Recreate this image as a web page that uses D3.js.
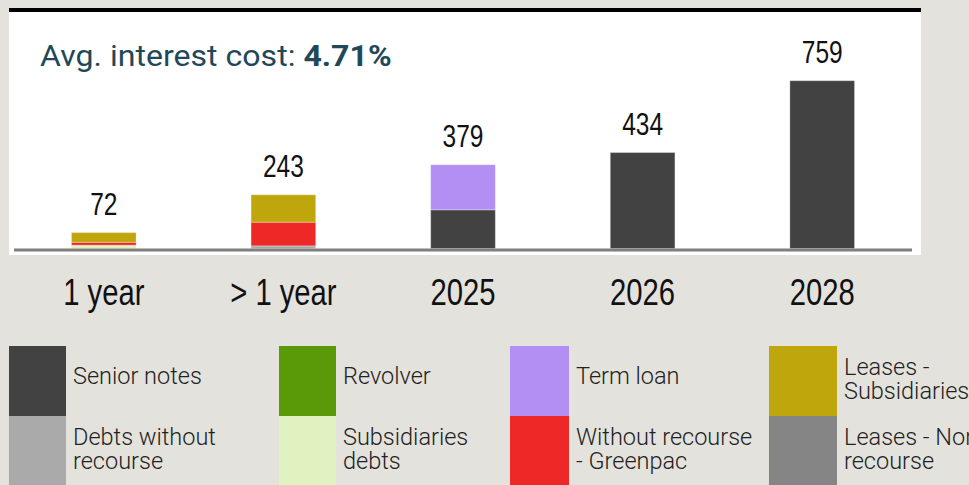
<!DOCTYPE html>
<html>
<head>
<meta charset="utf-8">
<script src="https://cdn.jsdelivr.net/npm/d3@7/dist/d3.min.js"></script>
<style>
  html, body { margin: 0; padding: 0; background: #e4e2dd; }
  svg { display: block; }
</style>
</head>
<body>
<svg id="chart" width="969" height="485"></svg>
<script>
// Maturity buckets (US$ million)
const categories = ["1 year", "> 1 year", "2025", "2026", "2028"];

// Debt types, in stacking order (bottom to top)
const seriesNames = [
  "Senior notes",
  "Debts without recourse",
  "Subsidiaries debts",
  "Revolver",
  "Term loan",
  "Without recourse - Greenpac",
  "Leases - Subsidiaries",
  "Leases - Non recourse"
];
const seriesColors = ["#424242", "#aaaaaa", "#dff2c0", "#5a9a08", "#b38ef3", "#ee2826", "#bfa60d", "#858585"];

// Amounts per debt type, one value per bucket
const seniorNotes        = [0,   0,   175, 434, 759];
const debtsWithout       = [0,   12,  0,   0,   0];
const subsidiariesDebts  = [15,  0,   0,   0,   0];
const revolver           = [0,   0,   0,   0,   0];
const termLoan           = [0,   0,   204, 0,   0];
const greenpac           = [13,  107, 0,   0,   0];
const leasesSubsidiaries = [44,  124, 0,   0,   0];
const leasesNonRecourse  = [0,   0,   0,   0,   0];

// Totals shown above each bar
const totals = [72, 243, 379, 434, 759];

const avgLabel = "Avg. interest cost: ";
const avgValue = "4.71%";

// Legend layout: 4 columns x 2 rows
const legendOrder = [
  ["Senior notes"], ["Revolver"], ["Term loan"], ["Leases -", "Subsidiaries"],
  ["Debts without", "recourse"], ["Subsidiaries", "debts"], ["Without recourse", "- Greenpac"], ["Leases - Non", "recourse"]
];
const legendColors = ["#424242", "#5a9a08", "#b38ef3", "#bfa60d", "#aaaaaa", "#dff2c0", "#ee2826", "#858585"];

const seriesValues = [seniorNotes, debtsWithout, subsidiariesDebts, revolver, termLoan, greenpac, leasesSubsidiaries, leasesNonRecourse];
const table = categories.map((c, i) => {
  const row = { category: c };
  seriesNames.forEach((s, j) => { row[s] = seriesValues[j][i]; });
  return row;
});

const svg = d3.select("#chart");

// White chart panel with a black rule on top
svg.append("rect").attr("x", 9).attr("y", 12).attr("width", 912).attr("height", 243).attr("fill", "#ffffff");
svg.append("rect").attr("x", 9).attr("y", 8).attr("width", 912).attr("height", 4).attr("fill", "#000000");

const x = d3.scaleBand().domain(categories).range([14, 912]).paddingInner(0.64).paddingOuter(0.32);
const y = d3.scaleLinear().domain([0, 759]).range([248.5, 80.7]);

const stack = d3.stack().keys(seriesNames);
const layers = stack(table);

const g = svg.append("g");
g.selectAll("g.layer")
  .data(layers)
  .join("g")
  .attr("class", "layer")
  .attr("fill", (d, i) => seriesColors[i])
  .selectAll("rect")
  .data(d => d.filter(p => p[1] - p[0] > 0))
  .join("rect")
  .attr("x", d => x(d.data.category))
  .attr("width", x.bandwidth())
  .attr("y", d => y(d[1]))
  .attr("height", d => y(d[0]) - y(d[1]))
  .attr("stroke", "rgba(255,255,255,0.3)")
  .attr("stroke-width", 1);

// Baseline
svg.append("line")
  .attr("x1", 14).attr("x2", 912).attr("y1", 250).attr("y2", 250)
  .attr("stroke", "#7f7f7f").attr("stroke-width", 3);

// Total labels above bars
const narrow = 0.79;
svg.selectAll("g.total")
  .data(categories)
  .join("g")
  .attr("class", "total")
  .attr("transform", (c, i) => `translate(${x(c) + x.bandwidth() / 2},${y(totals[i]) - 18}) scale(${narrow},1)`)
  .append("text")
  .attr("text-anchor", "middle")
  .attr("font-family", "Liberation Sans, Arial, sans-serif")
  .attr("font-size", 31)
  .attr("fill", "#111")
  .text((c, i) => totals[i]);

// Category axis
const xAxis = d3.axisBottom(x).tickSize(0).tickPadding(0);
const axisG = svg.append("g").call(xAxis);
axisG.select(".domain").remove();
axisG.selectAll(".tick text").remove();
axisG.selectAll(".tick")
  .append("g")
  .attr("transform", `translate(0,305) scale(${narrow},1)`)
  .append("text")
  .attr("text-anchor", "middle")
  .attr("font-family", "Liberation Sans, Arial, sans-serif")
  .attr("font-size", 37)
  .attr("fill", "#111")
  .text(d => d);

// Average interest cost
const avg = svg.append("g")
  .attr("transform", "translate(40,66) scale(1.07,1)")
  .append("text")
  .attr("font-family", "Roboto, sans-serif")
  .attr("font-size", 30)
  .attr("fill", "#1f4859");
avg.append("tspan").text(avgLabel);
avg.append("tspan").attr("font-weight", 700).text(avgValue);

// Legend
const colX = [9, 279, 510, 769];
const swW = [57, 57, 59, 68];
const rowY = [346, 416];
const rowH = 70;
legendOrder.forEach((lines, k) => {
  const col = k % 4, row = Math.floor(k / 4);
  const lg = svg.append("g");
  lg.append("rect")
    .attr("x", colX[col]).attr("y", rowY[row])
    .attr("width", swW[col]).attr("height", rowH)
    .attr("fill", legendColors[k]);
  const t = lg.append("text")
    .attr("font-family", "Roboto, sans-serif")
    .attr("font-weight", 300)
    .attr("font-size", 23.5)
    .attr("fill", "#222");
  const tx = colX[col] + swW[col] + 7;
  const baseY = lines.length === 1 ? rowY[row] + 38 : rowY[row] + 29;
  lines.forEach((ln, li) => {
    t.append("tspan").attr("x", tx).attr("y", baseY + li * 23.5).text(ln);
  });
});
</script>
</body>
</html>
